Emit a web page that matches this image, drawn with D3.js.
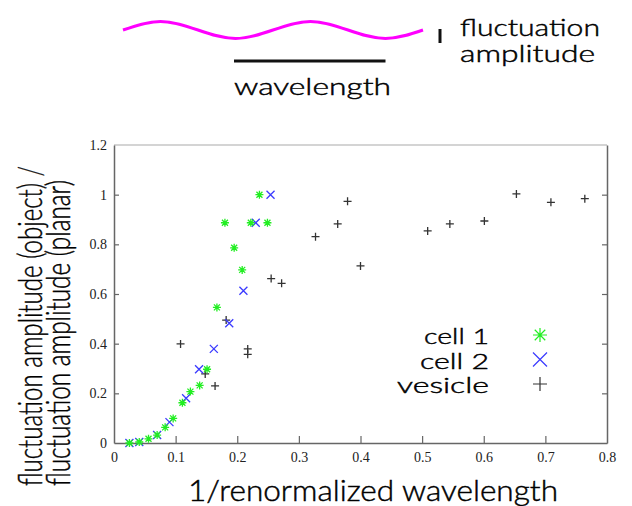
<!DOCTYPE html>
<html>
<head>
<meta charset="utf-8">
<script src="https://cdn.jsdelivr.net/npm/d3@7"></script>
<style>
  body { margin: 0; background: #fff; }
  svg { display: block; }
  .tick text { font-family: "Liberation Serif", "DejaVu Serif", serif; font-size: 14px; fill: #222; }
  .title { font-family: Lato, "DejaVu Sans", sans-serif; font-weight: 300; fill: #000; stroke: #000; stroke-width: 0.45px; }
</style>
</head>
<body>
<div id="chart"></div>
<script>
// Values
const cell1X = [0.025, 0.041, 0.056, 0.070, 0.083, 0.096, 0.111, 0.124, 0.139, 0.151, 0.167, 0.180, 0.195, 0.208, 0.222, 0.236, 0.249];
const cell1Y = [0.000, 0.004, 0.017, 0.032, 0.063, 0.099, 0.162, 0.207, 0.232, 0.297, 0.546, 0.887, 0.786, 0.697, 0.887, 1.000, 0.887];

const cell2X = [0.025, 0.041, 0.070, 0.090, 0.117, 0.138, 0.162, 0.187, 0.210, 0.230, 0.254];
const cell2Y = [0.000, 0.004, 0.032, 0.084, 0.180, 0.297, 0.379, 0.482, 0.613, 0.887, 1.000];

const vesicleX = [0.108, 0.148, 0.164, 0.182, 0.217, 0.217, 0.255, 0.272, 0.327, 0.363, 0.379, 0.400, 0.509, 0.545, 0.601, 0.653, 0.709, 0.764];
const vesicleY = [0.399, 0.278, 0.230, 0.495, 0.379, 0.357, 0.662, 0.643, 0.831, 0.882, 0.973, 0.713, 0.854, 0.882, 0.894, 1.003, 0.969, 0.984];

const seriesNames = ['cell 1', 'cell 2', 'vesicle'];
const xTicks = [0, 0.1, 0.2, 0.3, 0.4, 0.5, 0.6, 0.7, 0.8];
const yTicks = [0, 0.2, 0.4, 0.6, 0.8, 1, 1.2];

// schematic wave: position in wavelengths, height in amplitudes
const waveX = [0, 0.25, 0.75, 1.25, 1.75, 2];
const waveY = [0, 1, -1, 1, -1, 0];

const width = 632, height = 506;
const margin = { top: 145, right: 25, bottom: 63, left: 114 };

const svg = d3.select('#chart').append('svg')
    .attr('width', width)
    .attr('height', height);

// ---- schematic at the top ----
const wx = d3.scaleLinear().domain([0, 2]).range([123, 423]);
const wy = d3.scaleLinear().domain([-1, 1]).range([38.5, 21.5]);

svg.append('path')
    .datum(waveX.map((d, i) => [d, waveY[i]]))
    .attr('d', d3.line().x(d => wx(d[0])).y(d => wy(d[1])).curve(d3.curveMonotoneX))
    .attr('fill', 'none')
    .attr('stroke', '#f0f')
    .attr('stroke-width', 3);

// one wavelength bar
svg.append('line')
    .attr('x1', wx(0.74)).attr('x2', wx(1.75))
    .attr('y1', 61).attr('y2', 61)
    .attr('stroke', '#111').attr('stroke-width', 3);

svg.append('text').attr('class', 'title')
    .attr('x', 234).attr('y', 95)
    .attr('textLength', 157).attr('lengthAdjust', 'spacingAndGlyphs')
    .style('font-size', '23px')
    .text('wavelength');

// amplitude marker
svg.append('line')
    .attr('x1', 440).attr('x2', 440)
    .attr('y1', 29).attr('y2', 43)
    .attr('stroke', '#111').attr('stroke-width', 3);

svg.append('text').attr('class', 'title')
    .attr('x', 460).attr('y', 36)
    .attr('textLength', 140).attr('lengthAdjust', 'spacingAndGlyphs')
    .style('font-size', '23px')
    .text('fluctuation');
svg.append('text').attr('class', 'title')
    .attr('x', 460).attr('y', 62)
    .attr('textLength', 135).attr('lengthAdjust', 'spacingAndGlyphs')
    .style('font-size', '23px')
    .text('amplitude');

// ---- scatter plot ----
const x = d3.scaleLinear().domain([0, 0.8]).range([margin.left, width - margin.right]);
const y = d3.scaleLinear().domain([0, 1.2]).range([height - margin.bottom, margin.top]);

// top border
svg.append('line')
    .attr('x1', x(0)).attr('x2', x(0.8))
    .attr('y1', y(1.2)).attr('y2', y(1.2))
    .attr('stroke', '#aaa').attr('stroke-width', 1.2);

const xAxis = svg.append('g')
    .attr('transform', `translate(0,${y(0)})`)
    .call(d3.axisBottom(x).tickValues(xTicks).tickSizeInner(-7).tickSizeOuter(0).tickPadding(9)
        .tickFormat(d => d3.format('')(+d.toFixed(1))));
xAxis.selectAll('.tick line').filter(d => d === 0 || d === 0.8).remove();

const yAxis = svg.append('g')
    .attr('transform', `translate(${x(0)},0)`)
    .call(d3.axisLeft(y).tickValues(yTicks).tickSizeInner(-5).tickSizeOuter(0).tickPadding(7)
        .tickFormat(d => d3.format('')(+d.toFixed(1))));
yAxis.selectAll('.tick line').filter(d => d === 0 || d === 1.2).remove();

const yRight = svg.append('g')
    .attr('transform', `translate(${x(0.8)},0)`)
    .call(d3.axisRight(y).tickValues(yTicks).tickSizeInner(-5).tickSizeOuter(0).tickFormat(''));
yRight.selectAll('.tick line').filter(d => d === 0 || d === 1.2).remove();

svg.selectAll('.domain').attr('stroke', '#666').attr('stroke-width', 1.5);
svg.selectAll('.tick line').attr('stroke', '#666').attr('stroke-width', 1.2);

// marker shapes (gnuplot-ish)
function plusPath(r) { return `M${-r},0H${r}M0,${-r}V${r}`; }
function crossPath(r) { return `M${-r},${-r}L${r},${r}M${-r},${r}L${r},${-r}`; }
function starPath(r) { return plusPath(r) + crossPath(r * 0.75); }

const series = [
    { name: seriesNames[0], xs: cell1X, ys: cell1Y, color: '#22ee22', shape: starPath },
    { name: seriesNames[1], xs: cell2X, ys: cell2Y, color: '#3a3aff', shape: crossPath },
    { name: seriesNames[2], xs: vesicleX, ys: vesicleY, color: '#333', shape: plusPath }
];

// draw vesicle first, cells on top
[series[2], series[1], series[0]].forEach(s => {
    svg.append('g').selectAll('path')
        .data(s.xs.map((v, i) => [v, s.ys[i]]))
        .enter().append('path')
        .attr('transform', d => `translate(${x(d[0])},${y(d[1])})`)
        .attr('d', s.shape(4))
        .attr('fill', 'none')
        .attr('stroke', s.color)
        .attr('stroke-width', 1.3);
});

// legend
const legendWidths = [65, 69, 92];
series.forEach((s, i) => {
    const cy = 335 + i * 24.5;
    svg.append('text').attr('class', 'title')
        .attr('x', 489).attr('y', cy + 9)
        .attr('text-anchor', 'end')
        .attr('textLength', legendWidths[i]).attr('lengthAdjust', 'spacingAndGlyphs')
        .style('font-size', '21px')
        .text(s.name);
    svg.append('path')
        .attr('transform', `translate(540,${cy})`)
        .attr('d', s.shape(7))
        .attr('fill', 'none')
        .attr('stroke', s.color)
        .attr('stroke-width', 1.2);
});

// axis titles
svg.append('text').attr('class', 'title')
    .attr('x', 188).attr('y', 501)
    .attr('textLength', 370).attr('lengthAdjust', 'spacingAndGlyphs')
    .style('font-size', '29px')
    .text('1/renormalized wavelength');

svg.append('text').attr('class', 'title')
    .attr('transform', 'translate(42,486) rotate(-90)')
    .attr('textLength', 320).attr('lengthAdjust', 'spacingAndGlyphs')
    .style('font-size', '33px')
    .text('fluctuation amplitude (object) /');
svg.append('text').attr('class', 'title')
    .attr('transform', 'translate(70,486) rotate(-90)')
    .attr('textLength', 306).attr('lengthAdjust', 'spacingAndGlyphs')
    .style('font-size', '33px')
    .text('fluctuation amplitude (planar)');
</script>
</body>
</html>
